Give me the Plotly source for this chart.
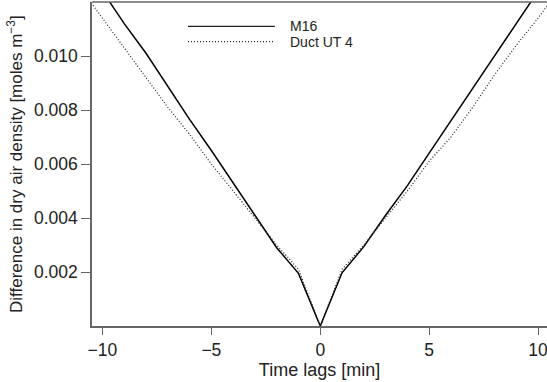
import plotly.graph_objects as go

lags = [-11, -10, -9, -8, -7, -6, -5, -4, -3, -2, -1, 0, 1, 2, 3, 4, 5, 6, 7, 8, 9, 10, 11]
m16 = [0.0136, 0.0124, 0.0112, 0.0101, 0.00885, 0.00765, 0.0065, 0.0053, 0.0041, 0.0029, 0.00195, 0.0,
       0.00197, 0.00294, 0.0041, 0.0052, 0.0064, 0.0076, 0.0088, 0.0100, 0.0112, 0.0124, 0.0136]
duct = [0.0125, 0.0114, 0.0103, 0.0092, 0.0081, 0.0071, 0.0060, 0.0050, 0.0040, 0.0030, 0.0021, 0.0,
        0.0021, 0.0030, 0.0040, 0.0050, 0.0061, 0.0070, 0.0081, 0.0093, 0.0104, 0.0114, 0.0125]
names = ["M16", "Duct UT 4"]
xticks = [-10, -5, 0, 5, 10]
yticks = [0.002, 0.004, 0.006, 0.008, 0.010]

FONT = "Liberation Sans"
AX = "#666666"
DOT = "1px,2px"

fig = go.Figure()
fig.add_trace(go.Scatter(x=lags, y=m16, mode="lines", name=names[0],
                         line=dict(color="black", width=1.5), cliponaxis=True))
fig.add_trace(go.Scatter(x=lags, y=duct, mode="lines", name=names[1],
                         line=dict(color="#222", width=1.2, dash=DOT), cliponaxis=True))

# legend drawn as decoration (long line samples like the reference)
for i, (nm, dash) in enumerate(zip(names, ["solid", DOT])):
    yy = 0.925 - i * 0.047
    fig.add_shape(type="line", xref="paper", yref="paper", x0=0.211, x1=0.402, y0=yy, y1=yy,
                  line=dict(color="#222", width=1.3, dash=dash))
    fig.add_annotation(text=nm, xref="paper", yref="paper", x=0.431, y=yy, xanchor="left",
                       yanchor="middle", showarrow=False, font=dict(family=FONT, size=14, color="#222"))

# top frame line
fig.add_shape(type="line", xref="paper", yref="paper", x0=0, x1=1, y0=1, y1=1,
              line=dict(color=AX, width=1.5))

fig.add_annotation(text="Difference in dry air density [moles m<sup>−3</sup>]", xref="paper", yref="paper",
                   x=0, y=0.5, xanchor="center", yanchor="middle", xshift=-77, textangle=-90,
                   showarrow=False, font=dict(family=FONT, size=17, color="#222"))

fig.update_layout(
    width=547, height=382,
    margin=dict(l=92, r=0, t=2, b=56, pad=0),
    paper_bgcolor="white", plot_bgcolor="white",
    showlegend=False,
    font=dict(family=FONT, size=17.5, color="#222"),
    xaxis=dict(range=[-10.48, 10.41], tickvals=xticks, ticks="outside", ticklen=7, tickcolor=AX,
               tickwidth=1.3, showline=True, linecolor=AX, linewidth=1.5, mirror=False,
               showgrid=False, zeroline=False, ticklabeloverflow="allow",
               title=dict(text="Time lags [min]", font=dict(family=FONT, size=18), standoff=4)),
    yaxis=dict(range=[0, 0.012], tickvals=yticks, tickformat=".3f", ticks="outside", ticklen=9,
               tickcolor=AX, tickwidth=1.3, showline=True, linecolor=AX, linewidth=1.5,
               showgrid=False, zeroline=False),
)

fig.write_html("out.html")
